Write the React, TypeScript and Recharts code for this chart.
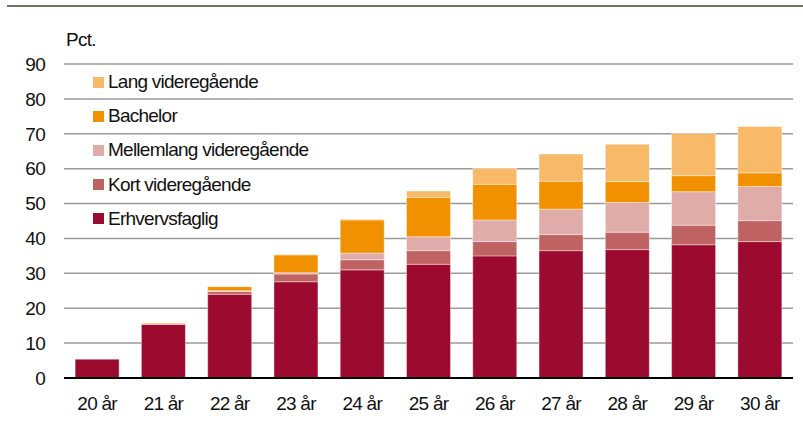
import React from 'react';
import { BarChart, Bar, XAxis, YAxis, CartesianGrid } from 'recharts';

const categories = ['20 år', '21 år', '22 år', '23 år', '24 år', '25 år', '26 år', '27 år', '28 år', '29 år', '30 år'];
const erhvervsfaglig = [5.4, 15.4, 24.0, 27.6, 31.0, 32.6, 35.0, 36.5, 36.8, 38.2, 39.1];
const kortVideregaaende = [0, 0.1, 0.8, 2.2, 2.9, 3.9, 4.1, 4.6, 5.0, 5.6, 6.0];
const mellemlangVideregaaende = [0, 0, 0.2, 0.4, 1.9, 4.0, 6.2, 7.3, 8.5, 9.6, 9.8];
const bachelor = [0, 0.2, 1.2, 5.1, 9.5, 11.3, 10.2, 8.0, 6.0, 4.6, 3.9];
const langVideregaaende = [0, 0, 0.1, 0.1, 0.2, 1.8, 4.6, 7.8, 10.7, 12.1, 13.3];
const yTicks = [0, 10, 20, 30, 40, 50, 60, 70, 80, 90];

const data = categories.map((c, i) => ({
  cat: c,
  erhv: erhvervsfaglig[i],
  kort: kortVideregaaende[i],
  mellem: mellemlangVideregaaende[i],
  bach: bachelor[i],
  lang: langVideregaaende[i],
}));

const series = [
  { key: 'erhv', name: 'Erhvervsfaglig', color: '#9C0A2F' },
  { key: 'kort', name: 'Kort videregående', color: '#BF6262' },
  { key: 'mellem', name: 'Mellemlang videregående', color: '#DFACAA' },
  { key: 'bach', name: 'Bachelor', color: '#F29100' },
  { key: 'lang', name: 'Lang videregående', color: '#F8BA68' },
];

const FONT = '"Liberation Sans", Arial, sans-serif';
const FS = 19;
const LS = -0.75;

const LegendBox = () => {
  const items = [...series].reverse();
  return (
    <div style={{ position: 'absolute', left: 93, top: 65, fontFamily: FONT, fontSize: FS, letterSpacing: LS, color: '#111' }}>
      {items.map((s) => (
        <div key={s.key} style={{ display: 'flex', alignItems: 'center', height: 34.2 }}>
          <span style={{ display: 'inline-block', width: 11, height: 11, background: s.color, marginRight: 4 }} />
          <span>{s.name}</span>
        </div>
      ))}
    </div>
  );
};

export default function App() {
  return (
    <div style={{ position: 'absolute', left: 0, top: 0, width: 803, height: 423, background: '#fff' }}>
      <div style={{ position: 'absolute', left: 7, top: 5, width: 796, height: 2, background: '#777261' }} />
      <div style={{ position: 'absolute', left: 66, top: 29, fontFamily: FONT, fontSize: FS, letterSpacing: LS, color: '#111' }}>Pct.</div>
      <BarChart
        width={803}
        height={423}
        data={data}
        margin={{ top: 64, right: 10, bottom: 15, left: 0 }}
        barCategoryGap="16.8%"
      >
        <CartesianGrid vertical={false} stroke="#9a9a9a" strokeWidth={1.5} />
        <XAxis
          dataKey="cat"
          height={30}
          tickLine={false}
          axisLine={{ stroke: '#000', strokeWidth: 2 }}
          tick={{ fill: '#111', fontSize: FS, fontFamily: FONT, letterSpacing: LS }}
          tickMargin={13}
          interval={0}
        />
        <YAxis
          width={64}
          domain={[0, 90]}
          ticks={yTicks}
          tickLine={false}
          axisLine={false}
          tick={{ fill: '#111', fontSize: FS, fontFamily: FONT, letterSpacing: LS }}
          tickMargin={13}
          interval={0}
        />
        {series.map((s) => (
          <Bar
            key={s.key}
            dataKey={s.key}
            name={s.name}
            stackId="a"
            fill={s.color}
            stroke="#ffffff"
            strokeOpacity={0.5}
            strokeWidth={0.8}
            isAnimationActive={false}
          />
        ))}
      </BarChart>
      <LegendBox />
    </div>
  );
}
